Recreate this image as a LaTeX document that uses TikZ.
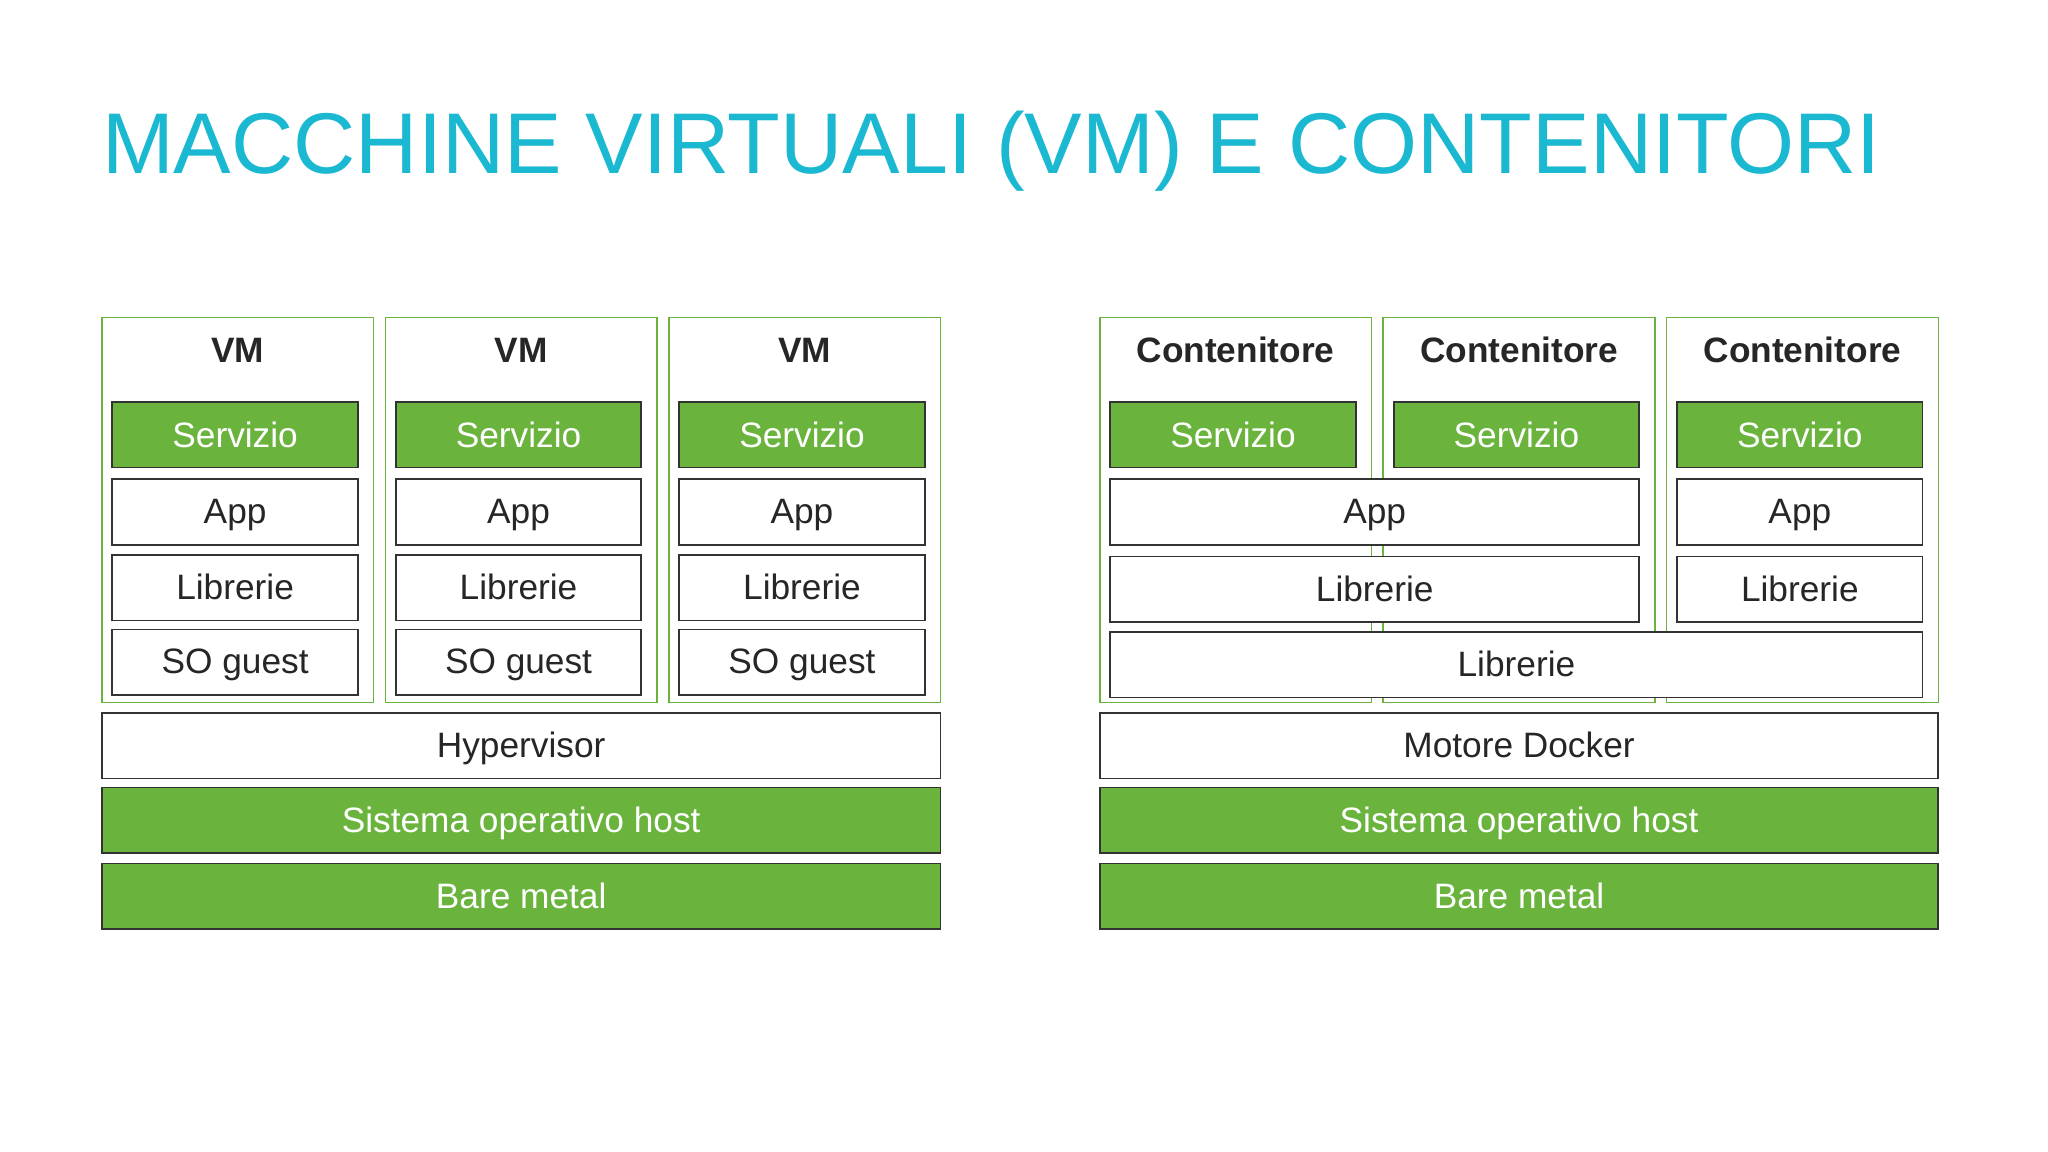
\documentclass[tikz,border=0pt]{standalone}
\usepackage{fontspec}
\setmainfont{Liberation Sans}
\definecolor{ttl}{HTML}{1BB8D2}
\definecolor{grn}{HTML}{6AB43E}
\definecolor{edg}{HTML}{333333}
\newcommand\bx[7]{\node[#6,minimum width={((#4)-(#2))*1pt},minimum height={((#5)-(#3))*1pt}] (#1) at ({((#2)+(#4))/2},{((#3)+(#5))/2}) {#7};}
\tikzset{
 wbox/.style={draw=edg,line width=1.3pt,fill=white,inner sep=0pt,outer sep=0pt,font=\fontsize{27}{30}\selectfont,text=black!85,text depth=0.2ex},
 gbox/.style={wbox,fill=grn,text=white},
 outer/.style={draw=grn,line width=1.2pt,fill=white,inner sep=0pt,outer sep=0pt},
 hdr/.style={font=\bfseries\fontsize{27}{30}\selectfont,text=black!85,inner sep=0pt}
}
\begin{document}
\begin{tikzpicture}[x=1pt,y=-1pt]
\fill[white] (0,0) rectangle (1568,882);
\useasboundingbox (0,0) rectangle (1568,882);
\node[anchor=base west,inner sep=0pt,text=ttl,font=\fontsize{66}{70}\selectfont] (title) at (78,133) {MACCHINE VIRTUALI (VM) E CONTENITORI};
% VMs
\foreach \i/\x in {1/78,2/295,3/512}{
 \bx{vm\i}{\x}{243}{\x+208}{538}{outer}{}
 \node[hdr] (vmh\i) at (\x+104,268) {VM};
 \bx{vs\i}{\x+8}{308}{\x+196}{358}{gbox}{Servizio}
 \bx{va\i}{\x+8}{367}{\x+196}{417}{wbox}{App}
 \bx{vl\i}{\x+8}{425}{\x+196}{475}{wbox}{Librerie}
 \bx{vo\i}{\x+8}{482}{\x+196}{532}{wbox}{SO guest}
}
\bx{hyp}{78}{546}{720}{596}{wbox}{Hypervisor}
\bx{hos1}{78}{603}{720}{653}{gbox}{Sistema operativo host}
\bx{bm1}{78}{661}{720}{711}{gbox}{Bare metal}
% Containers
\foreach \i/\x in {1/842,2/1059,3/1276}{
 \bx{co\i}{\x}{243}{\x+208}{538}{outer}{}
 \node[hdr] (coh\i) at (\x+104,268) {Contenitore};
 \bx{cs\i}{\x+8}{308}{\x+196}{358}{gbox}{Servizio}
}
\bx{ca12}{850}{367}{1255}{417}{wbox}{App}
\bx{ca3}{1284}{367}{1472}{417}{wbox}{App}
\bx{cl12}{850}{426}{1255}{476}{wbox}{Librerie}
\bx{cl3}{1284}{426}{1472}{476}{wbox}{Librerie}
\bx{clall}{850}{484}{1472}{534}{wbox}{Librerie}
\bx{dock}{842}{546}{1484}{596}{wbox}{Motore Docker}
\bx{hos2}{842}{603}{1484}{653}{gbox}{Sistema operativo host}
\bx{bm2}{842}{661}{1484}{711}{gbox}{Bare metal}
\end{tikzpicture}
\end{document}
